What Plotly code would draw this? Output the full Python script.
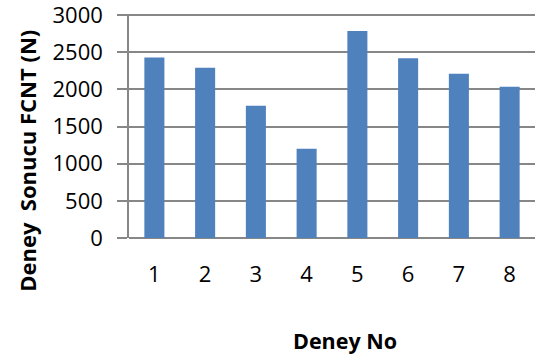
import plotly.graph_objects as go

# Experiment numbers and resulting force values (N)
deney_no = ["1", "2", "3", "4", "5", "6", "7", "8"]
fcnt = [2431, 2291, 1780, 1201, 2785, 2418, 2211, 2036]
y_ticks = [0, 500, 1000, 1500, 2000, 2500, 3000]

FONT = "Open Sans"
GRID = "#878787"

fig = go.Figure(
    go.Bar(
        x=deney_no,
        y=fcnt,
        marker=dict(color="#4F81BD", line=dict(width=0)),
        width=0.395,
    )
)

fig.update_layout(
    width=535,
    height=358,
    margin=dict(l=129, r=0, t=14, b=120),
    paper_bgcolor="white",
    plot_bgcolor="white",
    showlegend=False,
    font=dict(family=FONT, size=22, color="black"),
    annotations=[
        dict(
            text="<b>Deney\u00a0\u00a0Sonucu FCNT (N)</b>",
            xref="paper", yref="paper",
            x=-0.251, y=0.345,
            xanchor="center", yanchor="middle",
            textangle=-90,
            showarrow=False,
            font=dict(family=FONT, size=22, color="black"),
        ),
        dict(
            text="<b>Deney No</b>",
            xref="paper", yref="paper",
            x=0.531, y=-0.457,
            xanchor="center", yanchor="middle",
            showarrow=False,
            font=dict(family=FONT, size=21.5, color="black"),
        ),
    ],
)

fig.update_xaxes(
    type="category",
    showgrid=False,
    showline=False,
    ticks="",
    ticklabelstandoff=21,
    tickfont=dict(family=FONT, size=22, color="black"),
)

# small headroom above 3000 keeps the top gridline inside the plot area
fig.update_yaxes(
    range=[0, 3015],
    tickvals=y_ticks,
    ticklabeloverflow="allow",
    showgrid=True,
    gridcolor=GRID,
    gridwidth=1.5,
    showline=True,
    linecolor=GRID,
    linewidth=1.5,
    ticks="outside",
    ticklen=10,
    tickcolor=GRID,
    tickwidth=1.5,
    ticklabelstandoff=10,
    zeroline=True,
    zerolinecolor=GRID,
    zerolinewidth=1.5,
    tickfont=dict(family=FONT, size=22, color="black"),
)

fig.write_html("out.html")
